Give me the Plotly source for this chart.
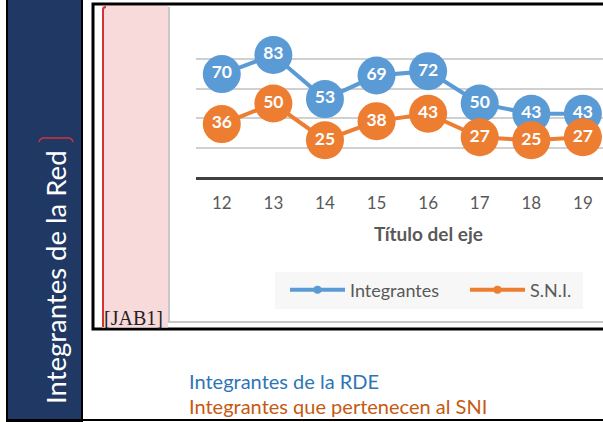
import plotly.graph_objects as go

categories = ["12", "13", "14", "15", "16", "17", "18", "19"]
integrantes = [70, 83, 53, 69, 72, 50, 43, 43]
sni = [36, 50, 25, 38, 43, 27, 25, 27]
series_names = ["Integrantes", "S.N.I."]
axis_title = "Título del eje"
side_title = "Integrantes de la Red"
note_lines = ["Integrantes de la RDE", "Integrantes que pertenecen al SNI"]
comment_tag = "[JAB1]"

W, H = 603, 422
BLUE = "#5B9BD5"
ORANGE = "#ED7D31"


def px(x):
    return x / W


def py(y):
    return 1 - y / H


fig = go.Figure()

for name, vals, col in [(series_names[0], integrantes, BLUE), (series_names[1], sni, ORANGE)]:
    fig.add_trace(go.Scatter(
        x=categories, y=vals, mode="lines+markers+text",
        text=[str(v) for v in vals], textposition="middle center",
        textfont=dict(family="Lato", size=17.5, color="white", weight="bold"),
        line=dict(color=col, width=4),
        marker=dict(color=col, size=38),
        showlegend=False, cliponaxis=False, name=name,
    ))
    fig.add_trace(go.Scatter(
        x=[None], y=[None], mode="lines+markers", name=name,
        line=dict(color=col, width=4), marker=dict(color=col, size=8),
    ))

shapes = []
# left navy panel
shapes.append(dict(type="rect", xref="paper", yref="paper",
                   x0=px(7), x1=px(82), y0=py(421), y1=py(-5),
                   fillcolor="#203864", line=dict(color="black", width=2), layer="below"))
# bottom page line
shapes.append(dict(type="line", xref="paper", yref="paper",
                   x0=px(7), x1=px(610), y0=py(420), y1=py(420),
                   line=dict(color="black", width=2)))
# black frame
shapes.append(dict(type="rect", xref="paper", yref="paper",
                   x0=px(93), x1=px(620), y0=py(329), y1=py(4),
                   fillcolor="white", line=dict(color="black", width=3), layer="below"))
# pink comment region
shapes.append(dict(type="rect", xref="paper", yref="paper",
                   x0=px(102), x1=px(168), y0=py(327.5), y1=py(6),
                   fillcolor="#F8DADB", line=dict(width=0), layer="below"))
# red comment line
shapes.append(dict(type="path", xref="paper", yref="paper",
                   path=f"M {px(103)},{py(327)} L {px(103)},{py(10)} Q {px(103)},{py(7)} {px(106)},{py(7)}",
                   line=dict(color="#D13438", width=2)))
# red bracket on side title
shapes.append(dict(type="path", xref="paper", yref="paper",
                   path=(f"M {px(39)},{py(142)} Q {px(40)},{py(138)} {px(44)},{py(138)} "
                         f"L {px(68)},{py(138)} Q {px(72)},{py(138)} {px(73)},{py(142)}"),
                   line=dict(color="#D13438", width=1.5)))
# grey chart border
shapes.append(dict(type="path", xref="paper", yref="paper",
                   path=f"M {px(169)},{py(7)} L {px(169)},{py(322)} L {px(620)},{py(322)}",
                   line=dict(color="#C8C8C8", width=2)))
# legend background
shapes.append(dict(type="rect", xref="paper", yref="paper",
                   x0=px(275), x1=px(583), y0=py(309), y1=py(272),
                   fillcolor="#F7F7F7", line=dict(width=0), layer="below"))


def ann(text, x, y, size, color, family="Lato", xanchor="center", angle=0, bold=False):
    return dict(text=text, x=px(x), y=py(y), xref="paper", yref="paper",
                xanchor=xanchor, yanchor="middle", showarrow=False, textangle=angle,
                font=dict(family=family, size=size, color=color,
                          weight="bold" if bold else "normal"))


annotations = [
    ann(side_title, 55, 277, 27.5, "white", angle=-90),
    ann(axis_title, 428, 233, 19, "#595959", bold=True),
    ann(comment_tag, 102, 318, 20, "#222222", family="Liberation Serif", xanchor="left"),
    ann(note_lines[0], 187, 381, 20, "#2E75B6", xanchor="left"),
    ann(note_lines[1], 187, 406, 20, "#C55A11", xanchor="left"),
]

fig.update_layout(
    width=W, height=H,
    margin=dict(l=0, r=0, t=0, b=0, autoexpand=False),
    paper_bgcolor="white", plot_bgcolor="rgba(0,0,0,0)",
    shapes=shapes, annotations=annotations,
    showlegend=True,
    legend=dict(orientation="h", x=px(285), y=py(290), xanchor="left", yanchor="middle",
                bgcolor="rgba(0,0,0,0)", entrywidth=110, itemwidth=55,
                font=dict(family="Lato", size=18, color="#595959")),
    xaxis=dict(type="category", domain=[px(196), 1], range=[-0.5, 7.39],
               showgrid=False, showline=True, linecolor="#404040", linewidth=2.5,
               ticks="", ticklabelstandoff=9,
               tickfont=dict(family="Lato", size=17, color="#595959")),
    yaxis=dict(domain=[py(177), py(30)], range=[0, 100], dtick=20,
               showgrid=True, gridcolor="#D0D0D0", gridwidth=1.5,
               showticklabels=False, zeroline=False, showline=False),
)

fig.write_html("out.html", config={"displayModeBar": False},
               post_script="document.body.style.margin='0';")
